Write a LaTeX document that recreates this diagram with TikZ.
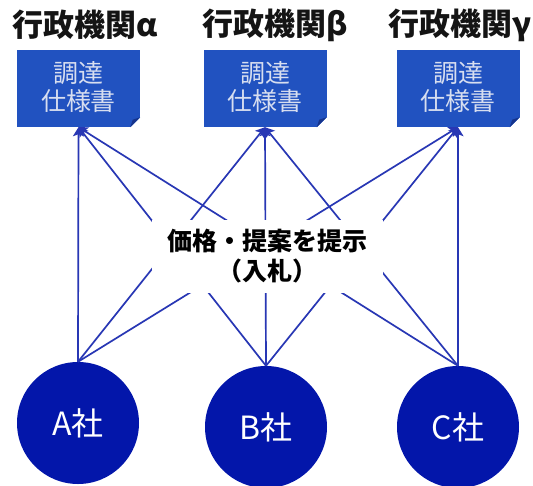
\documentclass[tikz,border=0pt]{standalone}
\usepackage{fontspec}
\setmainfont{Noto Sans CJK JP}
\usetikzlibrary{arrows.meta}
\definecolor{docblue}{RGB}{33,82,192}
\definecolor{folddark}{RGB}{22,52,140}
\definecolor{coblue}{RGB}{3,22,170}
\definecolor{lineblue}{RGB}{40,55,180}
\definecolor{doctext}{RGB}{215,222,240}
\definecolor{titlegray}{RGB}{20,20,20}
\begin{document}
\begin{tikzpicture}[x=1pt,y=-1pt,
  title/.style={font=\fontsize{31}{36}\selectfont\bfseries, anchor=west, inner sep=0pt, text=titlegray},
  doc/.style={fill=docblue, minimum width=123pt, minimum height=77pt, inner sep=0pt, text=doctext, align=center, font=\fontsize{25}{28}\selectfont},
  company/.style={circle, fill=coblue, minimum size=122pt, inner sep=0pt, text=white, font=\fontsize{32}{36}\selectfont},
  conn/.style={draw=lineblue, line width=1.7pt, -{Stealth[length=9pt,width=11pt,inset=2pt]}},
  bidlabel/.style={fill=white, minimum width=231pt, minimum height=73pt, inner sep=0pt, align=center, font=\fontsize{25}{30}\selectfont\bfseries}]
\fill[white] (0,0) rectangle (533,485);
\useasboundingbox (0,0) rectangle (533,485);

% titles
\node[title] (ta) at (12,25) {行政機関α};
\node[title] (tb) at (202,25) {行政機関β};
\node[title] (tc) at (388,25) {行政機関γ};

% documents
\node[doc] (da) at (78.5,88.5) {調達\\仕様書\\[-22pt]};
\node[doc] (db) at (265,88.5) {調達\\仕様書\\[-22pt]};
\node[doc] (dc) at (458,88.5) {調達\\仕様書\\[-22pt]};
\foreach \d in {da,db,dc}{
  \fill[white] ([shift={(-10,0.5)}]\d.south east) -- ([shift={(0.5,0.5)}]\d.south east) -- ([shift={(0.5,-10)}]\d.south east) -- cycle;
  \fill[folddark] ([shift={(-10,0)}]\d.south east) -- ([shift={(0,-10)}]\d.south east) -- ([shift={(-7.5,-7.5)}]\d.south east) -- cycle;
}

% companies
\node[company] (A) at (78,423) {A社};
\node[company] (B) at (266,427) {B社};
\node[company] (C) at (458,427) {C社};

% connectors
\foreach \c in {A,B,C}{
  \foreach \d in {da,db,dc}{
    \draw[conn] (\c.north) -- (\d.south);
  }
}

% label
\node[bidlabel] (bid) at (267.5,256.5) {価格・提案を提示\\（入札）};
\end{tikzpicture}
\end{document}
